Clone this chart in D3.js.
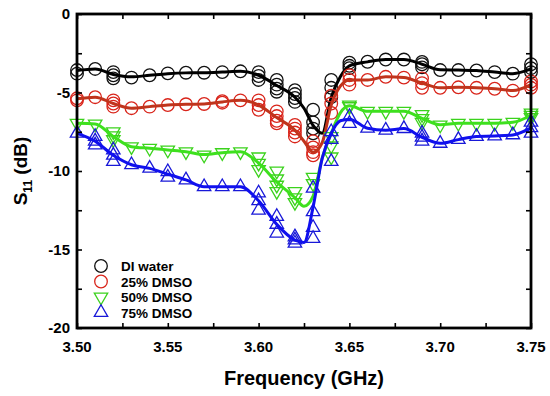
<!DOCTYPE html>
<html>
<head>
<meta charset="utf-8">
<script src="https://cdn.jsdelivr.net/npm/d3@7"></script>
<style>
  body { margin: 0; background: #fff; }
  text { font-family: Arial, "Liberation Sans", sans-serif; font-weight: bold; }
</style>
</head>
<body>
<svg width="550" height="396"></svg>
<script>
// frequencies (GHz) where markers sit
const freq = [3.50, 3.51, 3.52, 3.53, 3.54, 3.55, 3.56, 3.57, 3.58, 3.59, 3.60, 3.61, 3.62,
              3.63, 3.64, 3.65, 3.66, 3.67, 3.68, 3.69, 3.70, 3.71, 3.72, 3.73, 3.74, 3.75];

// repeated measurements at each frequency (dB)
const waterPts = [[-3.57, -3.8], [-3.5], [-3.7, -3.9, -4.1], [-4.05], [-3.9], [-3.78], [-3.74], [-3.74],
  [-3.7], [-3.65], [-3.7, -3.95, -4.2], [-4.2, -4.5, -4.75, -4.95], [-4.85, -5.1, -5.35, -5.6],
  [-6.1, -6.9, -7.3, -7.6], [-4.2, -4.7, -5.3], [-3.1, -3.3, -3.45], [-3.04], [-2.9], [-2.9],
  [-3.05, -3.2, -3.4], [-3.57], [-3.57], [-3.6], [-3.7], [-3.8], [-3.2, -3.45, -3.7]];
const dmso25Pts = [[-5.37, -5.5], [-5.3], [-5.5, -5.7, -5.9], [-6.0], [-5.9], [-5.8], [-5.75], [-5.73],
  [-5.65, -5.55], [-5.5], [-5.5, -5.8, -6.1], [-6.2, -6.5, -6.8, -6.96], [-7.07, -7.3, -7.55, -7.8],
  [-8.1, -8.5, -8.8, -9.0], [-5.2, -5.7, -6.3], [-3.9, -4.2, -4.5], [-4.2], [-4.0], [-4.05],
  [-4.1, -4.4, -4.7], [-4.7], [-4.67], [-4.7], [-4.76], [-4.88], [-4.3, -4.5, -4.7]];
const dmso50Pts = [[-6.96], [-7.0], [-7.5, -7.75, -8.0], [-8.45], [-8.55], [-8.66], [-8.77], [-8.98],
  [-8.83], [-8.77], [-9.1, -9.5, -9.9], [-10.0, -10.5, -10.9, -11.3], [-11.3, -11.7, -12.0],
  [-10.4, -10.8], [-7.8, -8.4, -9.1], [-5.8, -5.9], [-6.2], [-6.2], [-6.2], [-6.4, -6.65, -6.9],
  [-7.07], [-6.96], [-6.96], [-6.96], [-6.9], [-6.3, -6.45, -6.6]];
const dmso75Pts = [[-7.6], [-7.8, -8.1, -8.35], [-8.66, -9.0, -9.4], [-9.6], [-9.83], [-10.05, -10.4],
  [-10.57], [-11.0], [-11.0], [-11.0], [-11.4, -11.9, -12.5], [-12.9, -13.4, -13.96],
  [-14.2, -14.4, -14.6], [-11.1, -12.6, -13.6, -14.3], [-7.5, -8.0, -9.4], [-6.54, -6.97], [-7.28],
  [-7.4], [-7.3], [-7.6, -7.85, -8.1], [-8.24], [-8.0], [-7.8], [-7.77], [-7.7], [-6.9, -7.25, -7.6]];

// averaged curves
const lineFreq = [3.50, 3.51, 3.52, 3.53, 3.54, 3.55, 3.56, 3.57, 3.58, 3.59, 3.60, 3.61, 3.62,
                  3.625, 3.63, 3.635, 3.64, 3.645, 3.65, 3.66, 3.67, 3.68, 3.69, 3.70, 3.71,
                  3.72, 3.73, 3.74, 3.75];
const waterLine = [-3.6, -3.5, -3.85, -4.0, -3.9, -3.8, -3.75, -3.74, -3.7, -3.65, -3.9, -4.55, -5.3,
                   -6.0, -7.1, -7.6, -5.3, -4.0, -3.3, -3.05, -2.9, -2.9, -3.2, -3.55, -3.57,
                   -3.6, -3.7, -3.8, -3.5];
const dmso25Line = [-5.4, -5.3, -5.7, -6.0, -5.9, -5.8, -5.75, -5.73, -5.6, -5.5, -5.8, -6.6, -7.4,
                    -8.1, -8.8, -8.2, -5.8, -4.6, -4.2, -4.2, -4.0, -4.05, -4.4, -4.7, -4.67,
                    -4.7, -4.76, -4.88, -4.5];
const dmso50Line = [-6.96, -7.0, -7.8, -8.45, -8.55, -8.66, -8.77, -8.95, -8.83, -8.77, -9.5, -10.7, -11.7,
                    -12.25, -11.6, -9.2, -7.6, -6.3, -5.85, -6.2, -6.2, -6.2, -6.65, -7.05, -6.96,
                    -6.96, -6.96, -6.9, -6.45];
const dmso75Line = [-7.6, -8.1, -9.0, -9.6, -9.83, -10.2, -10.57, -11.0, -11.0, -11.0, -11.9, -13.4, -14.4,
                    -14.55, -12.3, -9.2, -7.6, -6.8, -6.7, -7.28, -7.4, -7.3, -7.85, -8.24, -8.0,
                    -7.8, -7.77, -7.7, -7.25];

const seriesNames = ['DI water', '25% DMSO', '50% DMSO', '75% DMSO'];
const xTicks = [3.50, 3.55, 3.60, 3.65, 3.70, 3.75];
const yTicks = [0, -5, -10, -15, -20];

const series = [
  { name: seriesNames[0], pts: waterPts, line: waterLine, mark: '#111', stroke: '#000', shape: 'circle' },
  { name: seriesNames[1], pts: dmso25Pts, line: dmso25Line, mark: '#d9241a', stroke: '#c0341c', shape: 'circle' },
  { name: seriesNames[2], pts: dmso50Pts, line: dmso50Line, mark: '#3bd21c', stroke: '#3ee01e', shape: 'down' },
  { name: seriesNames[3], pts: dmso75Pts, line: dmso75Line, mark: '#1818d8', stroke: '#1010ee', shape: 'up' }
];

const svg = d3.select('svg');
const margin = { left: 77, right: 19, top: 14, bottom: 68 };
const width = +svg.attr('width');
const height = +svg.attr('height');

const x = d3.scaleLinear().domain([3.50, 3.75]).range([margin.left, width - margin.right]);
const y = d3.scaleLinear().domain([-20, 0]).range([height - margin.bottom, margin.top]);

const triUp = d3.symbol().type(d3.symbolTriangle).size(78)();

function drawMarker(g, shape, color) {
    if (shape === 'circle') {
        g.append('circle').attr('r', 6.3).attr('fill', 'none')
            .attr('stroke', color).attr('stroke-width', 1.3);
    } else {
        g.append('path').attr('d', triUp)
            .attr('transform', shape === 'down' ? 'rotate(180)' : null)
            .attr('fill', 'none').attr('stroke', color).attr('stroke-width', 1.3);
    }
}

const line = d3.line()
    .x((d, i) => x(lineFreq[i]))
    .y(d => y(d))
    .curve(d3.curveMonotoneX);

// series: markers then curve
series.forEach(s => {
    const g = svg.append('g');
    s.pts.forEach((vals, i) => {
        vals.forEach(v => {
            const m = g.append('g').attr('transform', `translate(${x(freq[i])},${y(v)})`);
            drawMarker(m, s.shape, s.mark);
        });
    });
    g.append('path')
        .datum(s.line)
        .attr('d', line)
        .attr('fill', 'none')
        .attr('stroke', s.stroke)
        .attr('stroke-width', 3);
});

// axes with inward ticks on all four sides
const plotH = y(-20) - y(0);
const plotW = x(3.75) - x(3.50);
const xMinor = d3.range(3.50, 3.7501, 0.025);
const yMinor = d3.range(-20, 0.01, 2.5);

svg.append('g')
    .attr('transform', `translate(0,${y(-20)})`)
    .call(d3.axisBottom(x).tickValues(xMinor).tickSize(-5).tickFormat(''))
    .call(g => g.select('.domain').remove());
svg.append('g')
    .attr('transform', `translate(0,${y(0)})`)
    .call(d3.axisTop(x).tickValues(xMinor).tickSize(-5).tickFormat(''))
    .call(g => g.select('.domain').remove());
svg.append('g')
    .attr('transform', `translate(${x(3.50)},0)`)
    .call(d3.axisLeft(y).tickValues(yMinor).tickSize(-5).tickFormat(''))
    .call(g => g.select('.domain').remove());
svg.append('g')
    .attr('transform', `translate(${x(3.75)},0)`)
    .call(d3.axisRight(y).tickValues(yMinor).tickSize(-5).tickFormat(''))
    .call(g => g.select('.domain').remove());
svg.selectAll('.tick line').attr('stroke', '#000').attr('stroke-width', 1.6);

svg.append('rect')
    .attr('x', x(3.50)).attr('y', y(0))
    .attr('width', plotW).attr('height', plotH)
    .attr('fill', 'none').attr('stroke', '#000').attr('stroke-width', 2.8);

// tick labels
svg.append('g').selectAll('text')
    .data(xTicks)
    .enter().append('text')
    .attr('x', d => x(d))
    .attr('y', y(-20) + 24)
    .attr('text-anchor', 'middle')
    .attr('font-size', 15)
    .text(d => d.toFixed(2));

svg.append('g').selectAll('text')
    .data(yTicks)
    .enter().append('text')
    .attr('x', x(3.50) - 7)
    .attr('y', d => y(d) + 5)
    .attr('text-anchor', 'end')
    .attr('font-size', 15)
    .text(d => d);

// axis titles
svg.append('text')
    .attr('x', (x(3.50) + x(3.75)) / 2)
    .attr('y', 385)
    .attr('text-anchor', 'middle')
    .attr('font-size', 20)
    .text('Frequency (GHz)');

const yt = svg.append('text')
    .attr('transform', `translate(27,${(y(0) + y(-20)) / 2}) rotate(-90)`)
    .attr('text-anchor', 'middle')
    .attr('font-size', 19);
yt.append('tspan').text('S');
yt.append('tspan').attr('font-size', 12).attr('dy', 5).text('11');
yt.append('tspan').attr('dy', -5).text(' (dB)');

// legend
const legend = svg.append('g');
series.forEach((s, i) => {
    const ly = 266 + i * 15.5;
    const m = legend.append('g').attr('transform', `translate(101,${ly})`);
    drawMarker(m, s.shape, s.mark);
    legend.append('text')
        .attr('x', 121)
        .attr('y', ly + 5)
        .attr('font-size', 13.5)
        .text(s.name);
});
</script>
</body>
</html>
